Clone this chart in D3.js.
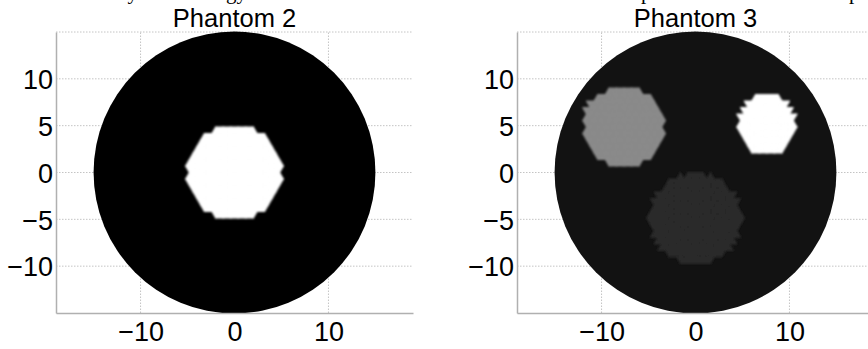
<!DOCTYPE html>
<html>
<head>
<meta charset="utf-8">
<script src="https://cdn.jsdelivr.net/npm/d3@7"></script>
<style>
  html, body { margin: 0; padding: 0; background: #fff; }
  svg { display: block; }
</style>
</head>
<body>
<svg id="fig" width="868" height="349"></svg>
<script>
// ---- data ----------------------------------------------------------------
const panelTitles = ["Phantom 2", "Phantom 3"];
const xTickValues = [-10, 0, 10];
const yTickValues = [-10, -5, 0, 5, 10];
const xLimits = [-19, 19];
const yLimits = [-15, 15];
const tankRadius = 15;

// grey level (0 = black, 1 = white) of the background medium in each phantom
const backgroundLevels = [0.0, 0.072];

// Phantom 2 inclusions
const p2CentersX = [0];
const p2CentersY = [0];
const p2Radii    = [5.06];
const p2Levels   = [1.0];

// Phantom 3 inclusions
const p3CentersX = [-7.7, 7.6, 0];
const p3CentersY = [4.9, 5.1, -5.0];
const p3Radii    = [4.3, 3.1, 4.85];
const p3Levels   = [0.54, 1.0, 0.165];

// words of the caption line above the figure (only their descenders are in view)
const captionWords = ["by", "energy", "phantom", "phantom"];
const captionAnchorX = [138, 247, 641, 849];
const captionAnchor = ["end", "end", "start", "start"];

// ---- layout --------------------------------------------------------------
const panelLefts = [56, 517];
const plotWidth = 357;
const plotTop = 32, plotBottom = 313;
const meshSpacing = 0.8;   // side length of the triangular FE elements

const svg = d3.select("#fig");
const defs = svg.append("defs");
defs.append("filter").attr("id", "soft")
  .attr("x", "-10%").attr("y", "-10%").attr("width", "120%").attr("height", "120%")
  .append("feGaussianBlur").attr("stdDeviation", 1.1);

const grey = v => { const c = Math.round(v * 255); return `rgb(${c},${c},${c})`; };

// structured triangular mesh covering the tank
function buildMesh(h, R) {
  const hy = h * Math.sqrt(3) / 2;
  const tris = [];
  const nRow = Math.ceil(R / hy) + 1;
  const nCol = Math.ceil(R / h) + 2;
  for (let j = -nRow; j < nRow; j++) {
    const y0 = j * hy, y1 = (j + 1) * hy;
    const ob = (Math.abs(j) % 2) * h / 2;
    const ot = (Math.abs(j + 1) % 2) * h / 2;
    for (let i = -nCol; i < nCol; i++) {
      const b0 = [ob + i * h, y0], b1 = [ob + (i + 1) * h, y0];
      const t0 = [ot + i * h, y1], t1 = [ot + (i + 1) * h, y1];
      if (ot > ob) {
        tris.push([b0, b1, t0]);
        tris.push([b1, t1, t0]);
      } else {
        tris.push([b0, b1, t1]);
        tris.push([b0, t1, t0]);
      }
    }
  }
  return tris;
}
const mesh = buildMesh(meshSpacing, tankRadius);
const centroid = t => [(t[0][0] + t[1][0] + t[2][0]) / 3, (t[0][1] + t[1][1] + t[2][1]) / 3];

// caption fragment (the line sits just above the top edge)
svg.append("g").selectAll("text").data(captionWords).join("text")
  .attr("x", (d, i) => captionAnchorX[i])
  .attr("y", -1.5)
  .attr("text-anchor", (d, i) => captionAnchor[i])
  .attr("font-family", "'Liberation Serif', 'Times New Roman', serif")
  .attr("font-size", 21)
  .attr("fill", "#000")
  .text(d => d);

const panels = [
  { cx: p2CentersX, cy: p2CentersY, r: p2Radii, lv: p2Levels },
  { cx: p3CentersX, cy: p3CentersY, r: p3Radii, lv: p3Levels }
];

panels.forEach((p, k) => {
  const x = d3.scaleLinear().domain(xLimits).range([panelLefts[k], panelLefts[k] + plotWidth]);
  const y = d3.scaleLinear().domain(yLimits).range([plotBottom, plotTop]);
  const g = svg.append("g");

  // dotted grid
  const gridStyle = s => s.attr("stroke", "#c4c4c4").attr("stroke-width", 1)
    .attr("stroke-dasharray", "1.5,1.5").attr("fill", "none");
  g.append("g").selectAll("line").data(yTickValues).join("line")
    .attr("x1", x(xLimits[0])).attr("x2", x(xLimits[1]))
    .attr("y1", d => y(d)).attr("y2", d => y(d)).call(gridStyle);
  g.append("g").selectAll("line").data(xTickValues).join("line")
    .attr("x1", d => x(d)).attr("x2", d => x(d))
    .attr("y1", y(yLimits[0])).attr("y2", y(yLimits[1])).call(gridStyle);
  g.append("line")
    .attr("x1", x(xLimits[0])).attr("x2", x(xLimits[1]))
    .attr("y1", y(yLimits[1])).attr("y2", y(yLimits[1])).call(gridStyle);

  // tank
  const clipId = "tank" + k;
  defs.append("clipPath").attr("id", clipId).append("circle")
    .attr("cx", x(0)).attr("cy", y(0)).attr("r", x(tankRadius) - x(0));
  g.append("circle")
    .attr("cx", x(0)).attr("cy", y(0)).attr("r", x(tankRadius) - x(0))
    .attr("fill", grey(backgroundLevels[k]));

  // inclusions: union of the mesh elements whose centroid lies inside each target
  const inc = g.append("g").attr("clip-path", `url(#${clipId})`)
    .append("g").attr("filter", "url(#soft)");
  p.r.forEach((rad, m) => {
    const sel = mesh.filter(t => {
      const c = centroid(t);
      return Math.hypot(c[0] - p.cx[m], c[1] - p.cy[m]) <= rad;
    });
    const col = grey(p.lv[m]);
    inc.append("g").selectAll("path").data(sel).join("path")
      .attr("d", t => "M" + t.map(v => x(v[0]).toFixed(2) + "," + y(v[1]).toFixed(2)).join("L") + "Z")
      .attr("fill", col)
      .attr("stroke", col).attr("stroke-width", 1.1).attr("stroke-linejoin", "round");
  });

  // axes
  const font = "'Liberation Sans', Arial, Helvetica, sans-serif";
  const ax = g.append("g").attr("transform", `translate(0,${plotBottom})`)
    .call(d3.axisBottom(x).tickValues(xTickValues).tickSize(0).tickPadding(9).tickFormat(d3.format("d")));
  const ay = g.append("g").attr("transform", `translate(${panelLefts[k]},0)`)
    .call(d3.axisLeft(y).tickValues(yTickValues).tickSize(0).tickPadding(3).tickFormat(d3.format("d")));
  [ax, ay].forEach(a => {
    a.select(".domain").attr("stroke", "#b0b0b0").attr("stroke-width", 1.5);
    a.selectAll("text").attr("font-family", font).attr("font-size", 27).attr("fill", "#000");
  });
  ay.selectAll("text").attr("dy", "0.36em");
  ax.selectAll("text").attr("dy", "0.71em");

  g.append("text")
    .attr("x", x(0)).attr("y", 27)
    .attr("text-anchor", "middle")
    .attr("font-family", font).attr("font-size", 25.5).attr("fill", "#000")
    .text(panelTitles[k]);
});
</script>
</body>
</html>
